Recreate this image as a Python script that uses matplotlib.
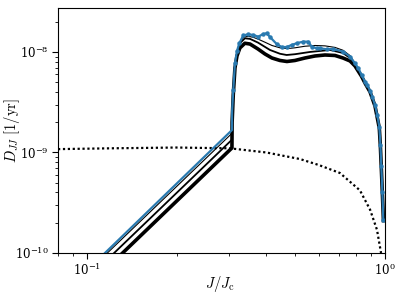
import matplotlib
matplotlib.use("Agg")
import matplotlib.pyplot as plt
from matplotlib.ticker import NullFormatter

plt.rcParams['mathtext.fontset'] = 'cm'
plt.rcParams['font.family'] = ['DejaVu Serif']

# blue (simulation) curve
J_blue = [0.110, 0.3066, 0.3070, 0.3097, 0.3138, 0.3187, 0.3243, 0.3345, 0.3477, 0.3614,
          0.3757, 0.3905, 0.4009, 0.4112, 0.4331, 0.450, 0.4677, 0.4862, 0.5054, 0.5318,
          0.5528, 0.5675, 0.5899, 0.605, 0.6374, 0.671, 0.7246, 0.7633, 0.793, 0.8136,
          0.835, 0.857, 0.872, 0.891, 0.9066, 0.9256, 0.942, 0.957, 0.965, 0.972, 0.980, 0.987]
D_blue = [8.8e-11, 1.67e-9, 2.6e-9, 4.19e-9, 7.72e-9, 1.02e-8, 1.215e-8, 1.46e-8, 1.50e-8, 1.476e-8,
          1.42e-8, 1.51e-8, 1.535e-8, 1.41e-8, 1.20e-8, 1.12e-8, 1.12e-8, 1.174e-8, 1.221e-8, 1.267e-8,
          1.267e-8, 1.129e-8, 1.088e-8, 1.088e-8, 1.064e-8, 1.07e-8, 1.007e-8, 8.98e-9, 7.72e-9, 6.88e-9,
          5.90e-9, 5.06e-9, 4.69e-9, 4.12e-9, 3.59e-9, 2.97e-9, 2.36e-9, 1.81e-9, 1.2e-9, 7.3e-10, 4.0e-10, 2.15e-10]

# thin black curve (just under blue)
J_thin = [0.112, 0.3066, 0.3070, 0.3097, 0.3138, 0.3187, 0.3243, 0.3345, 0.3477, 0.3614,
          0.3757, 0.3957, 0.4176, 0.4443, 0.4689, 0.4989, 0.5388, 0.5822, 0.629, 0.6796,
          0.7228, 0.7633, 0.793, 0.835, 0.857, 0.891, 0.9256, 0.957, 0.972, 0.987]
D_thin = [8.8e-11, 1.55e-9, 2.5e-9, 4.0e-9, 7.4e-9, 9.8e-9, 1.17e-8, 1.40e-8, 1.43e-8, 1.40e-8,
          1.34e-8, 1.25e-8, 1.16e-8, 1.10e-8, 1.08e-8, 1.10e-8, 1.14e-8, 1.16e-8, 1.15e-8, 1.11e-8,
          1.04e-8, 9.2e-9, 7.7e-9, 5.9e-9, 5.0e-9, 4.1e-9, 2.95e-9, 1.8e-9, 7.3e-10, 2.15e-10]

# medium black curve
J_med = [0.118, 0.3066, 0.3070, 0.3097, 0.3138, 0.3187, 0.326, 0.3388, 0.3524, 0.3748,
         0.4112, 0.4443, 0.4677, 0.4989, 0.56, 0.6538, 0.7228, 0.7633, 0.793, 0.835,
         0.857, 0.891, 0.9256, 0.957, 0.972, 0.987]
D_med = [8.8e-11, 1.34e-9, 2.3e-9, 3.9e-9, 7.2e-9, 9.6e-9, 1.22e-8, 1.368e-8, 1.35e-8, 1.24e-8,
         1.047e-8, 9.6e-9, 9.33e-9, 9.5e-9, 1.0e-8, 1.047e-8, 9.77e-9, 8.7e-9, 7.5e-9, 5.8e-9,
         4.95e-9, 4.05e-9, 2.93e-9, 1.78e-9, 7.2e-10, 2.15e-10]

# thick black curve
J_thick = [0.126, 0.3066, 0.3070, 0.3097, 0.3138, 0.3187, 0.326, 0.3388, 0.3524, 0.3748,
           0.3957, 0.4176, 0.4443, 0.4689, 0.4989, 0.5388, 0.5822, 0.629, 0.6796, 0.7228,
           0.7633, 0.793, 0.835, 0.857, 0.891, 0.9256, 0.957, 0.965, 0.972, 0.980, 0.988]
D_thick = [8.8e-11, 1.11e-9, 2.0e-9, 3.73e-9, 6.93e-9, 9.12e-9, 1.096e-8, 1.221e-8, 1.20e-8, 1.071e-8,
           9.55e-9, 8.71e-9, 8.23e-9, 8.04e-9, 8.23e-9, 8.71e-9, 9.12e-9, 9.33e-9, 9.23e-9, 8.71e-9,
           8.14e-9, 7.26e-9, 5.7e-9, 4.9e-9, 4.0e-9, 2.9e-9, 1.75e-9, 1.15e-9, 7.0e-10, 3.9e-10, 2.1e-10]

# dotted curve
J_dot = [0.08, 0.12, 0.2, 0.302, 0.40, 0.519, 0.60, 0.706, 0.824, 0.891, 0.94, 0.97]
D_dot = [1.08e-9, 1.10e-9, 1.12e-9, 1.10e-9, 1.0e-9, 8.6e-10, 7.5e-10, 6.25e-10, 4.2e-10, 2.7e-10, 1.7e-10, 1.0e-10]

fig = plt.figure(figsize=(3.99, 2.94), dpi=100)
ax = fig.add_axes([0.1454, 0.1395, 0.8195, 0.8323])

ax.plot(J_dot, D_dot, color='black', lw=1.6, linestyle=(0, (1, 1.2)))
ax.plot(J_thick, D_thick, color='black', lw=2.6, solid_joinstyle='round')
ax.plot(J_med, D_med, color='black', lw=1.3)
ax.plot(J_thin, D_thin, color='black', lw=0.8)
ax.plot(J_blue, D_blue, color='#2a7ab0', lw=1.6, marker='o', ms=2.2,
        markevery=list(range(3, len(J_blue))))

ax.set_xscale('log')
ax.set_yscale('log')
ax.set_xlim(0.08, 1.0)
ax.set_ylim(1e-10, 2.72e-8)
ax.xaxis.set_minor_formatter(NullFormatter())
ax.yaxis.set_minor_formatter(NullFormatter())
ax.set_xlabel(r'$J/J_\mathrm{c}$', fontsize=10.5)
ax.set_ylabel(r'$D_{JJ}\ [1/\mathrm{yr}]$', fontsize=10.5)
ax.xaxis.set_label_coords(0.495, -0.086)
ax.yaxis.set_label_coords(-0.11, 0.5)
ax.tick_params(which='both', direction='out', labelsize=8.5, pad=2.5)
ax.tick_params(which='major', length=4, width=0.8)
ax.tick_params(which='minor', length=2.5, width=0.6)
for s in ax.spines.values():
    s.set_linewidth(0.8)

fig.savefig('out.png', dpi=100)
